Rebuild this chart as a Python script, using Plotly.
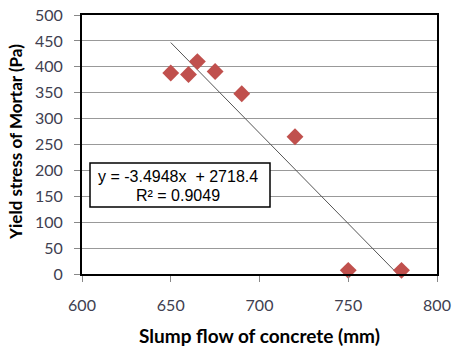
import plotly.graph_objects as go

slump_flow = [650, 660, 665, 675, 690, 720, 750, 780]
yield_stress = [388, 385, 410, 391, 348, 265, 7, 7]
slope = -3.4948
intercept = 2718.4
r2 = 0.9049
x_ticks = [600, 650, 700, 750, 800]
y_ticks = [0, 50, 100, 150, 200, 250, 300, 350, 400, 450, 500]
x_title = "Slump flow of concrete (mm)"
y_title = "Yield stress of Mortar (Pa)"

trend_x = [650, -intercept / slope]
trend_y = [slope * x + intercept for x in trend_x]

L, R, T, B = 82, 15, 15, 76
W, H = 452, 350
PW, PH = W - L - R, H - T - B


def px(x):
    return (x - L) / PW


def py(y):
    return (H - B - y) / PH


fig = go.Figure()
fig.add_trace(go.Scatter(x=trend_x, y=trend_y, mode="lines",
                         line=dict(color="#555555", width=1), showlegend=False))
fig.add_trace(go.Scatter(x=slump_flow, y=yield_stress, mode="markers",
                         marker=dict(symbol="diamond", size=13, color="#C0504D"),
                         showlegend=False, cliponaxis=False))

tick_font = dict(family="Lato", size=16, color="#404050")
fig.update_layout(
    width=W, height=H,
    margin=dict(l=L, r=R, t=T, b=B),
    paper_bgcolor="white", plot_bgcolor="white",
    xaxis=dict(range=[600, 800], tickvals=x_ticks, showgrid=False, zeroline=False,
               showline=True, linecolor="black", linewidth=2, mirror=True,
               ticks="outside", ticklen=6, tickcolor="#888888", tickwidth=1,
               tickfont=tick_font, ticklabelstandoff=10, automargin=False),
    yaxis=dict(range=[0, 500], tickvals=y_ticks, showgrid=True, gridcolor="#999999",
               gridwidth=1, zeroline=False,
               showline=True, linecolor="black", linewidth=2, mirror=True,
               ticks="outside", ticklen=6, tickcolor="#888888", tickwidth=1,
               tickfont=tick_font, ticklabelstandoff=8, automargin=False),
)
title_font = dict(family="Lato", color="black", weight="bold")
fig.add_annotation(x=px(259), y=py(349), xref="paper", yref="paper",
                   xanchor="center", yanchor="bottom", showarrow=False,
                   text=x_title, font=dict(size=19, **title_font))
fig.add_annotation(x=px(15), y=py(142), xref="paper", yref="paper",
                   xanchor="center", yanchor="middle", showarrow=False, textangle=-90,
                   text=y_title, font=dict(size=17, **title_font))

fig.add_shape(type="rect", xref="paper", yref="paper",
              x0=px(90), x1=px(270), y0=py(207), y1=py(163),
              line=dict(color="black", width=1.5), fillcolor="white", layer="above")
ann_font = dict(family="Liberation Sans", size=16, color="black")
fig.add_annotation(x=px(178), y=py(176), xref="paper", yref="paper",
                   xanchor="center", yanchor="middle",
                   text=f"y = {slope}x  + {intercept}", showarrow=False, font=ann_font)
fig.add_annotation(x=px(178), y=py(196), xref="paper", yref="paper",
                   xanchor="center", yanchor="middle",
                   text=f"R² = {r2}", showarrow=False, font=ann_font)
fig.write_html("out.html")
